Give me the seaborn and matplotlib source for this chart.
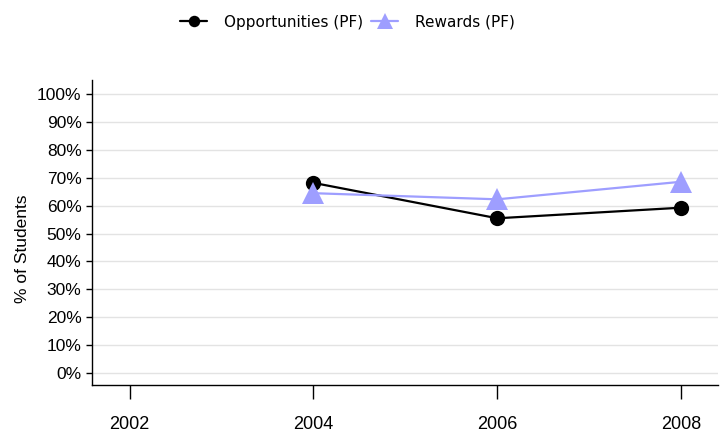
import seaborn as sns
import matplotlib.pyplot as plt
import pandas as pd

# values
years = [2004, 2006, 2008]
opportunities = [68.2, 55.5, 59.3]
rewards = [64.5, 62.3, 68.6]
x_ticks = [2002, 2004, 2006, 2008]
y_ticks = list(range(0, 101, 10))

df = pd.DataFrame({"year": years, "Opportunities (PF)": opportunities,
                   "Rewards (PF)": rewards})

sns.set_style("white")
plt.rcParams['font.family'] = ['Liberation Sans', 'DejaVu Sans']
plt.rcParams['text.color'] = 'black'
plt.rcParams['axes.labelcolor'] = 'black'

fig = plt.figure(figsize=(7.27, 4.36), dpi=100)
ax = fig.add_axes([0.1265, 0.117, 0.861, 0.6995])

sns.lineplot(data=df, x="year", y="Opportunities (PF)", ax=ax, color="black",
             marker="o", markersize=11, linewidth=1.6, markeredgewidth=0,
             label="Opportunities (PF)")
sns.lineplot(data=df, x="year", y="Rewards (PF)", ax=ax, color="#9e9eff",
             marker="^", markersize=15.5, linewidth=1.6, markeredgewidth=0,
             label="Rewards (PF)")

ax.set_xlim(2001.59, 2008.40)
ax.set_ylim(-4.3, 105.1)
ax.set_xticks(x_ticks)
ax.set_xticklabels([str(y) for y in x_ticks], fontsize=13)
ax.set_yticks(y_ticks)
ax.set_yticklabels([f"{v}%" for v in y_ticks], fontsize=12.5)
ax.yaxis.grid(True, color="#e3e3e3", linewidth=1)
ax.xaxis.grid(False)

for side in ["top", "right"]:
    ax.spines[side].set_visible(False)
for side in ["left", "bottom"]:
    ax.spines[side].set_color("black")
    ax.spines[side].set_linewidth(1)

ax.tick_params(axis="y", direction="out", length=4.5, width=1, pad=3,
               left=True, colors="black")
ax.tick_params(axis="x", direction="out", length=10, width=1, pad=12,
               bottom=True, colors="black")

ax.set_xlabel("")
ax.set_ylabel("% of Students", fontsize=12.5, family=['Liberation Sans'])
ax.yaxis.set_label_coords(-0.099, 0.447)

leg = ax.legend(loc="center", bbox_to_anchor=(0.478, 0.9495),
                bbox_transform=fig.transFigure, ncol=2, frameon=False,
                handlelength=1.8, columnspacing=0.5, handletextpad=1.1,
                markerscale=0.75, prop={"family": "DejaVu Sans", "size": 11})

fig.savefig("out.png", dpi=100, facecolor="white")
